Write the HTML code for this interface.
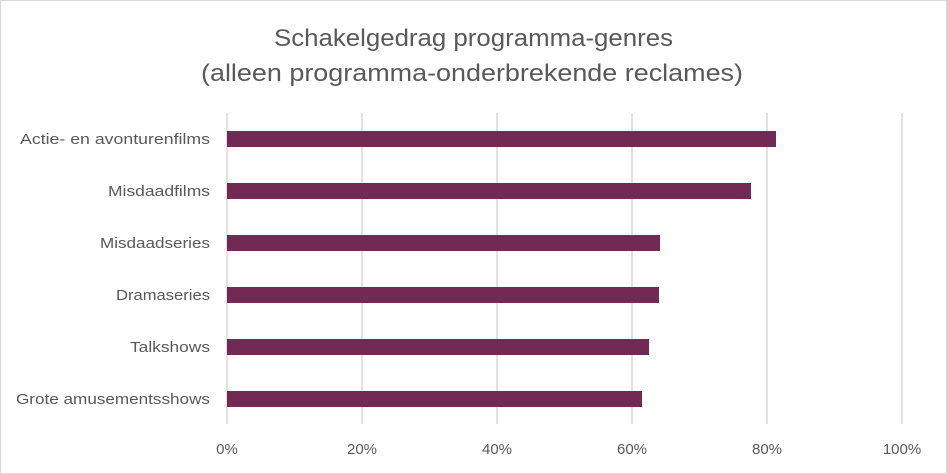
<!DOCTYPE html>
<html><head><style>
body{margin:0;background:#fff}
svg{display:block}
text{font-family:"Liberation Sans",sans-serif;fill:#595959}
</style></head><body>
<svg width="947" height="474" viewBox="0 0 947 474">
<rect x="0.5" y="0.5" width="946" height="473" fill="#fff" stroke="#d9d9d9"/>
<text x="274" y="46" font-size="24" textLength="399" lengthAdjust="spacingAndGlyphs">Schakelgedrag programma-genres</text>
<text x="201" y="81" font-size="24" textLength="542" lengthAdjust="spacingAndGlyphs">(alleen programma-onderbrekende reclames)</text>
<g stroke="#d9d9d9" stroke-width="1.5">
<line x1="227" y1="113" x2="227" y2="424"/>
<line x1="362" y1="113" x2="362" y2="424"/>
<line x1="497" y1="113" x2="497" y2="424"/>
<line x1="632" y1="113" x2="632" y2="424"/>
<line x1="767" y1="113" x2="767" y2="424"/>
<line x1="902" y1="113" x2="902" y2="424"/>
</g>
<g fill="#722953">
<rect x="227" y="131" width="549" height="16"/>
<rect x="227" y="183" width="524" height="16"/>
<rect x="227" y="235" width="433" height="16"/>
<rect x="227" y="287" width="432" height="16"/>
<rect x="227" y="339" width="422" height="16"/>
<rect x="227" y="391" width="415" height="16"/>
</g>
<g font-size="15">
<text x="20" y="144" textLength="190" lengthAdjust="spacingAndGlyphs">Actie- en avonturenfilms</text>
<text x="108" y="196" textLength="102" lengthAdjust="spacingAndGlyphs">Misdaadfilms</text>
<text x="100" y="248" textLength="110" lengthAdjust="spacingAndGlyphs">Misdaadseries</text>
<text x="116" y="300" textLength="94" lengthAdjust="spacingAndGlyphs">Dramaseries</text>
<text x="130" y="352" textLength="80" lengthAdjust="spacingAndGlyphs">Talkshows</text>
<text x="16" y="404" textLength="194" lengthAdjust="spacingAndGlyphs">Grote amusementsshows</text>
</g>
<g font-size="15" text-anchor="middle">
<text x="227" y="454">0%</text>
<text x="362" y="454">20%</text>
<text x="497" y="454">40%</text>
<text x="632" y="454">60%</text>
<text x="767" y="454">80%</text>
<text x="902" y="454">100%</text>
</g>
</svg>
</body></html>
